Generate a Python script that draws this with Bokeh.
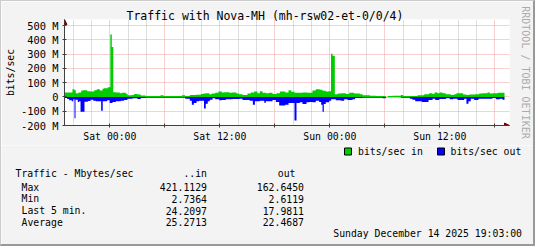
from bokeh.plotting import figure
from bokeh.models import (FixedTicker, Arrow, NormalHead, Range1d, LinearAxis)
from bokeh.layouts import column
from bokeh.core.properties import value
from bokeh.embed import file_html
from bokeh.resources import INLINE

# ---------------- data ----------------
# time axis: hours relative to Sat 00:00 ; graph covers Fri 19:03 .. Sun 19:03
t_start, t_end = -4.95, 43.05
x_ticks = [0, 6, 12, 18, 24, 30, 36, 42]
x_tick_labels = ["Sat 00:00", "", "Sat 12:00", "", "Sun 00:00", "", "Sun 12:00", ""]
x_minor = [h for h in range(-4, 44, 2) if h % 6 != 0]
y_ticks = [-200, -100, 0, 100, 200, 300, 400, 500]
y_tick_labels = ["-200 M", "-100 M", "0", "100 M", "200 M", "300 M", "400 M", "500 M"]

# inbound bits/sec (M), step changes
in_t = [-4.95, -4.08, -3.86, -3.72, -3.42, -3.13, -2.91, -2.47, -2.11, -1.71, -1.43, -1.10,
        -0.80, -0.66, -0.23, 0.05, 0.21, 0.37, 0.65, 1.08, 1.30, 1.74, 1.92, 2.47, 2.65,
        3.01, 3.37, 3.89, 5.52, 5.85, 7.85, 8.22, 8.72, 9.37, 9.92, 10.18, 10.46, 10.84,
        11.12, 11.49, 11.85, 12.21, 12.47, 13.02, 13.30, 13.81, 14.11, 14.47, 15.01, 15.37,
        15.74, 16.10, 16.36, 16.65, 17.01, 17.38, 17.74, 18.18, 18.54, 19.13, 19.49, 19.78,
        20.14, 20.47, 21.01, 21.56, 22.10, 22.46, 22.90, 23.20, 23.55, 23.85, 24.12, 24.29,
        24.54, 24.86, 25.23, 25.74, 26.11, 26.65, 27.27, 27.56, 28.36, 29.01, 30.10, 30.32,
        30.83, 31.74, 32.00, 33.56, 34.29, 34.84, 35.20, 35.41, 35.74, 35.99, 36.29, 36.65,
        37.19, 37.56, 37.81, 38.54, 38.90, 39.20, 39.85, 40.29, 40.65, 41.20, 41.45, 41.74,
        42.32, 42.54]
in_v = [31, 54, 47, 26, 31, 45, 47, 40, 38, 47, 54, 45,
        58, 60, 68, 437, 349, 33, 31, 26, 29, 22, 12, 14, 21,
        17, 10, 7, 12, 6, 12, 6, 13, 15, 21, 24, 26, 19,
        24, 29, 38, 31, 33, 29, 31, 24, 19, 14, 24, 31,
        38, 26, 40, 29, 26, 29, 21, 26, 38, 31, 47, 36,
        29, 30, 31, 29, 45, 54, 50, 43, 38, 40, 303, 288,
        19, 24, 26, 21, 29, 24, 19, 12, 8, 6, 0, 6,
        8, 14, 6, 12, 19, 26, 21, 31, 26, 31, 26, 19,
        14, 19, 26, 17, 14, 17, 19, 24, 26, 31, 24, 25,
        29, 30]

# outbound bits/sec (M), step changes (drawn below zero)
out_t = [-4.95, -4.66, -4.44, -4.15, -4.00, -3.86, -3.75, -3.50, -3.35, -3.20, -2.77, -2.41,
         -2.11, -1.82, -1.54, -0.95, -0.78, -0.30, -0.02, 0.29, 0.65, 1.19, 1.55, 1.92,
         2.47, 3.01, 3.37, 3.89, 8.22, 8.72, 8.94, 9.16, 9.45, 9.75, 10.27, 10.46, 10.68,
         10.90, 11.20, 11.49, 11.93, 12.21, 12.65, 13.38, 14.11, 14.47, 15.25, 15.60, 15.82,
         16.36, 16.84, 17.01, 17.74, 18.10, 18.47, 19.13, 19.49, 20.14, 20.36, 20.72, 21.01,
         21.45, 21.74, 22.10, 22.46, 22.83, 23.05, 23.20, 23.34, 23.55, 23.92, 24.14, 24.65,
         25.19, 25.56, 25.92, 26.47, 26.76, 27.56, 29.01, 29.74, 30.10, 30.83, 31.74, 32.72,
         33.01, 33.31, 34.03, 34.76, 35.20, 35.49, 35.93, 36.65, 37.08, 37.45, 37.92, 38.65,
         38.90, 39.12, 39.37, 39.74, 40.21, 41.74, 42.10, 42.54, 42.83]
out_v = [8, 15, 24, 31, 17, 150, 20, 36, 31, 103, 34, 28,
         20, 27, 31, 96, 31, 24, 43, 36, 31, 27, 22, 13,
         10, 15, 8, 5, 13, 27, 55, 43, 31, 27, 81, 48, 31,
         20, 10, 17, 24, 22, 17, 15, 13, 22, 27, 55, 31,
         27, 41, 31, 22, 36, 60, 55, 43, 165, 43, 38, 50,
         38, 36, 38, 27, 36, 55, 103, 50, 38, 27, 17, 24,
         27, 17, 22, 17, 8, 6, 5, 10, 2, 3, 6, 13,
         20, 31, 36, 22, 13, 22, 15, 10, 17, 13, 22, 13,
         48, 31, 13, 22, 13, 8, 17, 13, 20]

title_text = "Traffic with Nova-MH (mh-rsw02-et-0/0/4)"
y_label = "bits/sec"
watermark = "RRDTOOL / TOBI OETIKER"
legend_names = ["bits/sec in", "bits/sec out"]
stats_title = "Traffic - Mbytes/sec"
stats_cols = ["..in", "out"]
stats_rows = ["Max", "Min", "Last 5 min.", "Average"]
stats_in = ["421.1129", "2.7364", "24.2097", "25.2713"]
stats_out = ["162.6450", "2.6119", "17.9811", "22.4687"]
date_text = "Sunday December 14 2025 19:03:00"

# ---------------- layout (page pixels) ----------------
PAGE_W, PAGE_H = 535, 246
BL, BT, BR, BB = 1, 1, 2, 2          # 3D frame widths
IW = PAGE_W - BL - BR                # inner width 532
H1 = 144                             # chart part (page y 1..145)
H2 = PAGE_H - BT - BB - H1           # text part (page y 145..244)
FL, FR, FT, FB = 64, 509, 19, 125    # plot frame in page pixels
px_per_h = 440.0 / 48.0
px_per_M = 100.0 / 700.0
x_end = t_start + (FR - FL) / px_per_h
y_top = -200 + (FB - FT) / px_per_M

GREEN = "#00CC00"
BLUE = "#0000FF"
BACK = "#F3F3F3"
MONO = "DejaVu Sans Mono"
AX = "#404040"

p = figure(width=IW, height=H1, output_backend="svg", toolbar_location=None,
           x_range=Range1d(t_start, x_end), y_range=Range1d(-200, y_top),
           min_border_left=FL - BL, min_border_right=BL + IW - FR, min_border_top=FT - BT,
           min_border_bottom=BT + H1 - FB)
p.background_fill_color = "white"
p.border_fill_color = BACK
p.outline_line_color = None

# title
p.title.text = title_text
p.title.text_font = MONO
p.title.text_font_size = "11.5px"
p.title.text_font_style = "normal"
p.title.text_color = "black"
p.title.align = "left"
p.title.offset = 126 - FL
try:
    p.title.standoff = -6
except Exception:
    p.title.standoff = 0

# data
p.varea_step(x=in_t + [t_end], y1=[0] * (len(in_t) + 1), y2=in_v + [in_v[-1]],
             step_mode="after", fill_color=GREEN)
p.varea_step(x=out_t + [t_end], y1=[0] * (len(out_t) + 1), y2=[-v for v in out_v] + [-out_v[-1]],
             step_mode="after", fill_color=BLUE)

# grids
p.xgrid.ticker = FixedTicker(ticks=x_ticks, minor_ticks=x_minor)
p.xgrid.grid_line_color = "#F2A0A0"
p.xgrid.grid_line_dash = "1 1"
p.xgrid.minor_grid_line_color = "#BDBDBD"
p.xgrid.minor_grid_line_dash = "1 1"
p.ygrid.ticker = FixedTicker(ticks=y_ticks)
p.ygrid.grid_line_color = "#F2A0A0"
p.ygrid.grid_line_dash = "1 1"

# axes
p.xaxis.ticker = FixedTicker(ticks=x_ticks)
p.xaxis.major_label_overrides = {t: s for t, s in zip(x_ticks, x_tick_labels)}
p.yaxis.ticker = FixedTicker(ticks=y_ticks)
p.yaxis.major_label_overrides = {t: s for t, s in zip(y_ticks, y_tick_labels)}
for ax in (p.xaxis[0], p.yaxis[0]):
    ax.axis_line_color = AX
    ax.major_tick_line_color = AX
    ax.minor_tick_line_color = None
    ax.major_tick_in = 2
    ax.major_tick_out = 2
    ax.major_label_text_font = MONO
    ax.major_label_text_color = "black"
p.xaxis.major_label_text_font_size = "9.8px"
p.xaxis.major_label_standoff = 3
p.yaxis.major_label_text_font_size = "10.4px"
p.yaxis.major_label_standoff = 4
p.yaxis.axis_label = y_label
p.yaxis.axis_label_text_font = MONO
p.yaxis.axis_label_text_font_size = "9.8px"
p.yaxis.axis_label_text_font_style = "normal"
p.yaxis.axis_label_text_color = "black"
p.yaxis.axis_label_standoff = 2

# watermark as label of an empty right axis
wm = LinearAxis(ticker=FixedTicker(ticks=[]), axis_label=watermark, axis_line_color=None,
                major_tick_line_color=None, minor_tick_line_color=None,
                major_tick_in=0, major_tick_out=0, major_label_standoff=0,
                axis_label_text_font=MONO, axis_label_text_font_size="10px",
                axis_label_text_font_style="normal", axis_label_text_color="#ABABAB",
                axis_label_standoff=10)
p.add_layout(wm, "right")

# axis arrow heads
head = dict(size=5, fill_color="#7F0000", line_color="#7F0000")
p.add_layout(Arrow(end=NormalHead(**head), x_start=t_start, y_start=500,
                   x_end=t_start, y_end=y_top, line_color=AX))
p.add_layout(Arrow(end=NormalHead(**head), x_start=t_end, y_start=-200,
                   x_end=x_end, y_end=-200, line_color=AX))

# ---------------- legend / statistics panel ----------------
top2 = BT + H1
q = figure(width=IW, height=H2, output_backend="svg", toolbar_location=None,
           x_range=Range1d(BL, BL + IW), y_range=Range1d(top2 + H2, top2),
           x_axis_type=None, y_axis_type=None,
           min_border_left=0, min_border_right=0, min_border_top=0, min_border_bottom=0)
q.background_fill_color = BACK
q.border_fill_color = BACK
q.outline_line_color = None
q.xgrid.visible = False
q.ygrid.visible = False

# keep each plot's frame where it was laid out (no cross-plot frame alignment)
for fig in (p, q):
    if "frame_align" in fig.properties():
        fig.frame_align = False

q.quad(left=[344, 437], right=[351, 444], top=[147.5, 147.5], bottom=[154.5, 154.5],
       fill_color=[GREEN, BLUE], line_color="black", line_width=1)

def texts(xs, ys, ss, align):
    q.text(x=xs, y=ys, text=ss, text_font=value(MONO), text_font_size=value("9.8px"),
           text_align=align, text_baseline="middle", text_color="black")

row_y = [186.7 + i * 11.67 for i in range(len(stats_rows))]
texts([357.5, 450], [151, 151], legend_names, "left")
texts([15] + [21] * len(stats_rows), [173.3] + row_y, [stats_title] + stats_rows, "left")
texts([206.5, 295] + [206.5] * 4 + [303.5] * 4 + [521.5],
      [173.3, 173.3] + row_y + row_y + [233.3],
      stats_cols + stats_in + stats_out + [date_text], "right")

root = column(p, q, styles={"border-style": "solid", "border-width": "1px 2px 2px 1px",
                            "border-color": "#CBCBCB #999999 #999999 #CBCBCB"})

open("out.html", "w").write(file_html(root, INLINE))
